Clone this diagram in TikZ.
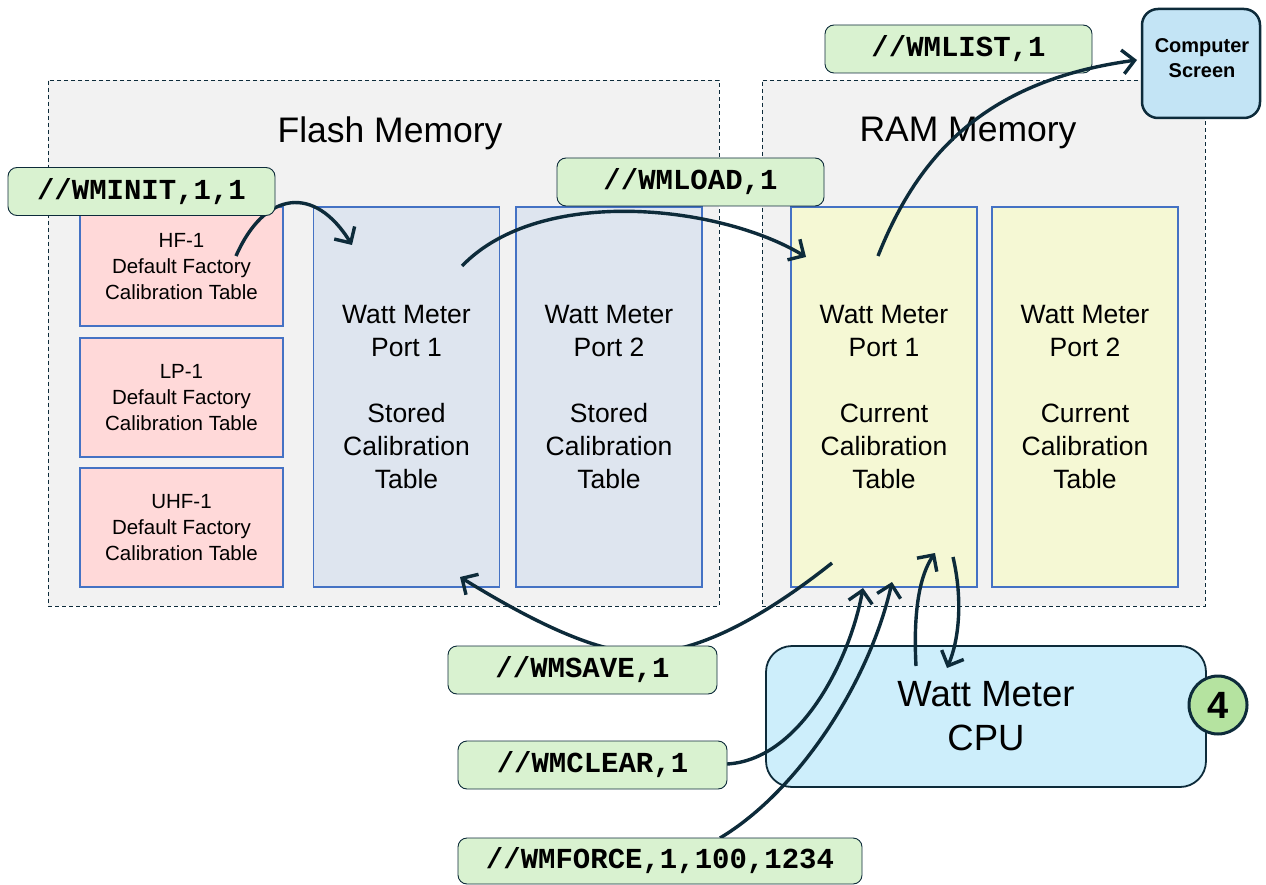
\documentclass[tikz,border=0pt]{standalone}
\usepackage{fontspec}
\setmainfont{Liberation Sans}
\setmonofont{Liberation Mono}
\usetikzlibrary{arrows.meta,calc}
\definecolor{ink}{HTML}{0D2B3A}
\definecolor{contfill}{HTML}{F2F2F2}
\definecolor{boxline}{HTML}{4472C4}
\definecolor{pinkfill}{HTML}{FFD9D9}
\definecolor{bluefill}{HTML}{DEE5EF}
\definecolor{yelfill}{HTML}{F5F8D4}
\definecolor{cmdfill}{HTML}{D9F2D0}
\definecolor{scrfill}{HTML}{C3E4F5}
\definecolor{cpufill}{HTML}{CDEEFB}
\definecolor{numfill}{HTML}{B5E3A0}
\tikzset{
  container/.style={draw=ink, dashed, dash pattern=on 4pt off 3pt, fill=contfill, line width=0.9pt, inner sep=0pt},
  tablebox/.style={draw=boxline, line width=1.4pt, inner sep=0pt, align=center, text=black},
  factory/.style={tablebox, fill=pinkfill, minimum width=203pt, minimum height=119pt, font=\fontsize{20.5}{26}\selectfont},
  stored/.style={tablebox, fill=bluefill, minimum width=186pt, minimum height=380pt, font=\fontsize{26.5}{33}\selectfont},
  current/.style={tablebox, fill=yelfill, minimum width=186pt, minimum height=380pt, font=\fontsize{26.5}{33}\selectfont},
  cmd/.style={draw=ink, line width=0.9pt, fill=cmdfill, rounded corners=9pt, inner sep=0pt, minimum height=48pt, font=\fontsize{29}{30}\selectfont\ttfamily\bfseries},
  title/.style={font=\fontsize{35.5}{38}\selectfont, inner sep=0pt},
  flow/.style={draw=ink, line width=3.4pt, -{Straight Barb[length=12pt,width=24pt,line width=3.4pt]}},
}
\begin{document}
\begin{tikzpicture}[x=1pt,y=-1pt]
\useasboundingbox (0,0) rectangle (1266,885);
% containers
\node[container, minimum width=671pt, minimum height=526pt] (flash) at (383.5,343) {};
\node[container, minimum width=443pt, minimum height=526pt] (ram) at (983.5,343) {};
\node[title] (flashtitle) at (390,133) {Flash Memory};
\node[title] (ramtitle) at (968,133) {RAM Memory};
% factory tables
\node[factory] (hf) at (181.5,266.5) {HF-1\\Default Factory\\Calibration Table};
\node[factory] (lp) at (181.5,397.5) {LP-1\\Default Factory\\Calibration Table};
\node[factory] (uhf) at (181.5,527.5) {UHF-1\\Default Factory\\Calibration Table};
% stored tables
\node[stored] (s1) at (406.5,397) {Watt Meter\\Port 1\\[33pt]Stored\\Calibration\\Table};
\node[stored] (s2) at (609,397) {Watt Meter\\Port 2\\[33pt]Stored\\Calibration\\Table};
% current tables
\node[current] (c1) at (884,397) {Watt Meter\\Port 1\\[33pt]Current\\Calibration\\Table};
\node[current] (c2) at (1085,397) {Watt Meter\\Port 2\\[33pt]Current\\Calibration\\Table};
% computer screen
\node[draw=ink, line width=2.5pt, fill=scrfill, rounded corners=16pt, minimum width=118pt, minimum height=109pt, inner sep=0pt] (screen) at (1201,63.5) {};
\node[align=center, font=\fontsize{20}{25}\selectfont\bfseries, inner sep=0pt] (screentext) at (1202,58) {Computer\\Screen};
% CPU
\node[draw=ink, line width=1.8pt, fill=cpufill, rounded corners=26pt, minimum width=440pt, minimum height=141pt, align=center, font=\fontsize{36.5}{44}\selectfont, inner sep=0pt] (cpu) at (986,716.5) {Watt Meter\\CPU};
\node[circle, draw=ink, line width=3pt, fill=numfill, minimum size=58pt, inner sep=0pt, font=\fontsize{38}{40}\selectfont\bfseries] (num) at (1218,705) {4};
% connector end points
\coordinate (initA) at (236,256);
\coordinate (initB) at (352,245);
\coordinate (loadA) at (462,266);
\coordinate (loadB) at (806,257);
\coordinate (listA) at (878,256);
\coordinate (listB) at (1137,60);
\coordinate (saveA) at (832,563);
\coordinate (saveM) at (650,653);
\coordinate (saveB) at (460,577);
\coordinate (clearA) at (727,764);
\coordinate (clearB) at (863,588);
\coordinate (forceA) at (720,838);
\coordinate (forceB) at (892,582);
\coordinate (upA) at (916,666);
\coordinate (upB) at (935,553);
\coordinate (dnA) at (953,557);
\coordinate (dnB) at (947,668);
% connectors
\draw[flow] (initA) .. controls (265,190) and (315,185) .. (initB);
\draw[flow] (loadA) .. controls (540,185) and (720,205) .. (loadB);
\draw[flow] (saveA) .. controls (760,620) and (700,650) .. (saveM) .. controls (600,656) and (530,620) .. (saveB);
\draw[flow] (clearA) .. controls (800,760) and (850,660) .. (clearB);
\draw[flow] (forceA) .. controls (800,790) and (870,680) .. (forceB);
\draw[flow] (upA) .. controls (913,610) and (920,575) .. (upB);
\draw[flow] (dnA) .. controls (963,600) and (959,640) .. (dnB);
% commands
\node[cmd, minimum width=267pt] (init) at (141.5,191.5) {//WMINIT,1,1};
\node[cmd, minimum width=267pt] (load) at (690.5,182) {//WMLOAD,1};
\node[cmd, minimum width=267pt] (list) at (958.5,49) {//WMLIST,1};
\node[cmd, minimum width=269pt] (save) at (582.5,670) {//WMSAVE,1};
\node[cmd, minimum width=269pt] (clear) at (592.5,765) {//WMCLEAR,1};
\node[cmd, minimum width=404pt, minimum height=46pt] (force) at (660,861) {//WMFORCE,1,100,1234};
\draw[flow] (listA) .. controls (920,150) and (990,80) .. (listB);
\end{tikzpicture}
\end{document}
